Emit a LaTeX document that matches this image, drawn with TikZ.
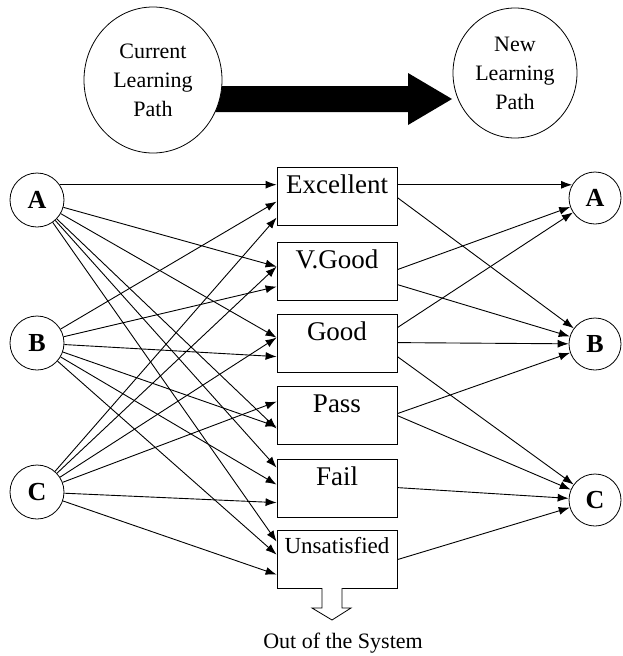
\documentclass[tikz,border=0pt]{standalone}
\usepackage{fontspec}
\setmainfont{Liberation Serif}
\usetikzlibrary{calc, positioning, shapes.geometric, arrows.meta}
\tikzset{
  % Set arrowhead
  >={Latex[length=11pt, width=8pt]},
  % Links between nodes
  link/.style={->, line width=0.9pt},
  % Grade box
  grade/.style={draw, line width=0.8pt, shape=rectangle, minimum width=120pt,
    minimum height=58pt, inner sep=4pt, text height=22pt, text depth=28pt,
    font=\fontsize{27}{27}\selectfont},
  % Learning path node
  lpath/.style={draw, line width=0.8pt, fill=white, shape=circle,
    minimum size=54pt, inner sep=0pt, font=\fontsize{26}{26}\selectfont\bfseries},
  % Learning path state
  lstate/.style={draw, line width=0.8pt, fill=white, shape=ellipse,
    inner sep=0pt, align=center, font=\fontsize{22}{29}\selectfont},
}

\begin{document}
\begin{tikzpicture}[x=1pt, y=-1pt]
  \useasboundingbox (0,0) rectangle (622,656);

  % big arrow between the two paths
  \fill (215,86) -- (408,86) -- (408,73) -- (452,99) -- (408,125) --
    (408,112) -- (215,112) -- cycle;

  \node[lstate, minimum width=138pt, minimum height=146pt] (cur) at (153,80)
    {Current\\Learning\\Path};
  \node[lstate, minimum width=124pt, minimum height=130pt] (new) at (515,73)
    {New\\Learning\\Path};

  % current paths
  \node[lpath] (la) at (37,200) {A};
  \node[lpath] (lb) at (37,343) {B};
  \node[lpath] (lc) at (37,492) {C};

  % grades
  \node[grade] (exc) at (337,196) {Excellent};
  \node[grade] (vg) at (337,271) {V.Good};
  \node[grade] (good) at (337,343) {Good};
  \node[grade] (pass) at (337,415) {Pass};
  \node[grade] (fail) at (337,488) {Fail};
  \node[grade, text height=19pt, text depth=31pt,
    font=\fontsize{23}{23}\selectfont] (uns) at (337,559) {Unsatisfied};

  % new paths
  \node[lpath, minimum size=52pt] (ra) at (595,198) {A};
  \node[lpath, minimum size=52pt] (rb) at (595,344) {B};
  \node[lpath, minimum size=52pt] (rc) at (595,500) {C};

  % every current path to every grade
  \draw[link] (la.34) -- (la.34 -| exc.west);
  \foreach \g/\a in {vg/25, good/24, pass/43, fail/9, uns/12}
    \draw[link] (la) -- ([yshift=-\a pt]\g.north west);
  \foreach \g/\b/\c in {exc/35/51, vg/45/25, good/43/24,
    pass/41/16, fail/26/44, uns/25/45}{
    \draw[link] (lb) -- ([yshift=-\b pt]\g.north west);
    \draw[link] (lc) -- ([yshift=-\c pt]\g.north west);
  }

  % grades to new paths
  \draw[link] (exc.east |- ra.150) -- (ra.150);
  \draw[link] ([yshift=-31pt]exc.north east) -- (rb);
  \draw[link] ([yshift=-28pt]vg.north east) -- (ra);
  \draw[link] ([yshift=-43pt]vg.north east) -- (rb);
  \draw[link] ([yshift=-14pt]good.north east) -- (ra);
  \draw[link] ([yshift=-29pt]good.north east) -- (rb);
  \draw[link] ([yshift=-43pt]good.north east) -- (rc);
  \draw[link] ([yshift=-28pt]pass.north east) -- (rb);
  \draw[link] ([yshift=-30pt]pass.north east) -- (rc);
  \draw[link] ([yshift=-29pt]fail.north east) -- (rc);
  \draw[link] ([yshift=-30pt]uns.north east) -- (rc);

  % out of the system
  \draw[line width=0.8pt, fill=white] (322,588) -- (322,608) -- (312,608) --
    (332,620) -- (351,608) -- (342,608) -- (342,588);
  \node[font=\fontsize{22}{22}\selectfont] (out) at (343,643)
    {Out of the System};
\end{tikzpicture}
\end{document}
